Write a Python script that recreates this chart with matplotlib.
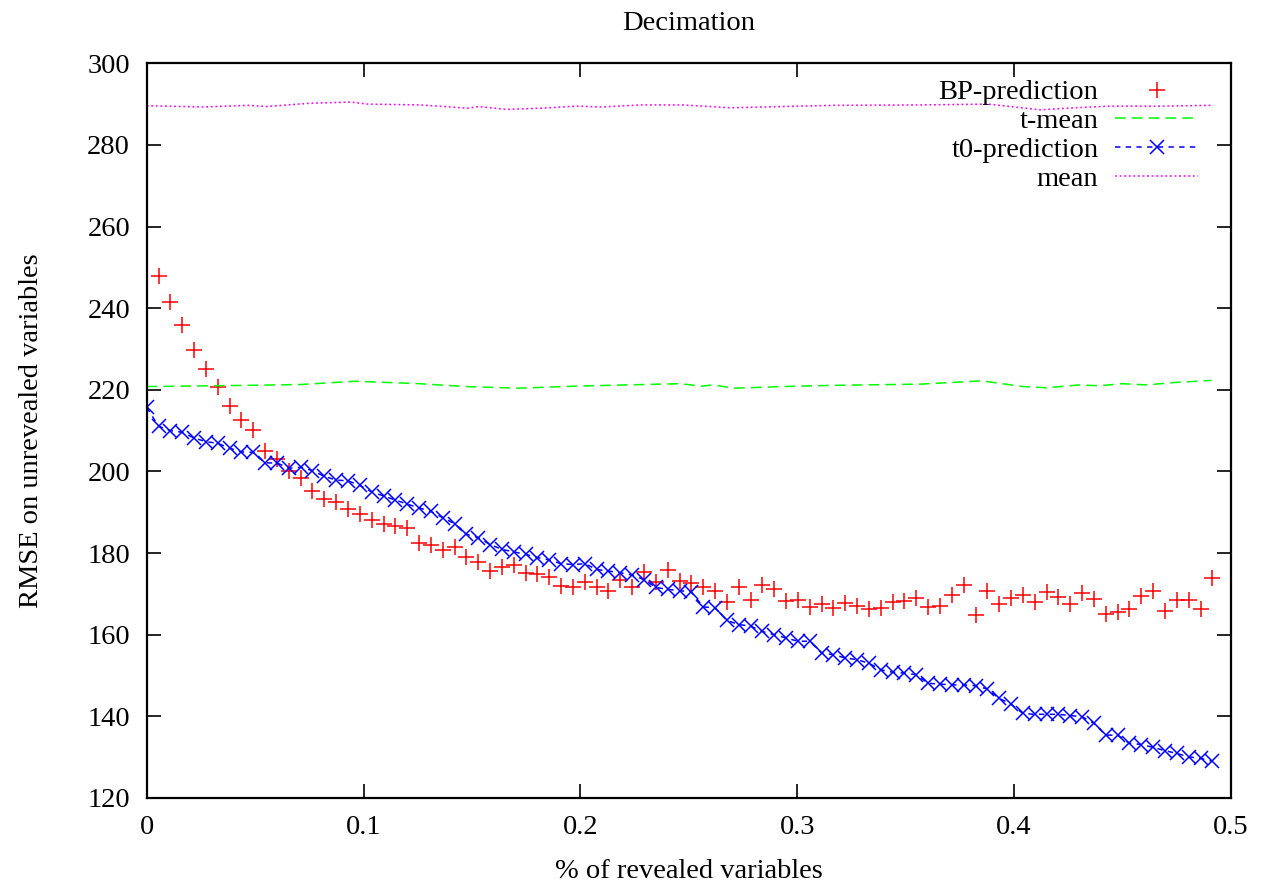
import numpy as np
import matplotlib
matplotlib.use('Agg')
import matplotlib.pyplot as plt

plt.rcParams['font.family'] = ['Liberation Serif', 'DejaVu Serif']

# step between decimation rounds (fraction of revealed variables)
step = 0.00546

bp_pred = [247.9, 241.4, 235.9, 229.7, 225.2, 220.7, 216.0, 212.5, 210.2, 205.1,
           203.0, 200.2, 198.3, 195.2, 193.3, 192.6, 190.9, 189.5, 188.0, 187.2,
           186.6, 186.2, 182.5, 181.9, 180.7, 181.5, 179.1, 177.8, 175.6, 176.6,
           177.0, 175.2, 174.8, 174.1, 171.9, 171.6, 172.9, 171.6, 170.7, 173.3,
           171.6, 175.4, 172.9, 175.8, 173.1, 172.7, 171.6, 170.8, 168.0, 171.6,
           168.4, 172.3, 171.1, 168.2, 168.6, 166.8, 167.5, 166.6, 167.8, 167.1,
           166.2, 166.6, 167.9, 168.2, 169.0, 166.8, 167.0, 169.8, 172.1, 164.8,
           170.6, 167.5, 168.9, 169.8, 167.9, 170.4, 169.3, 167.6, 170.1, 168.8,
           165.1, 165.6, 166.2, 169.6, 170.7, 165.9, 168.4, 168.4, 166.2, 173.8]

t0_pred = [215.7, 211.1, 210.0, 209.6, 208.2, 207.3, 206.9, 205.7, 204.8, 204.7,
           202.1, 202.1, 200.8, 201.0, 200.2, 198.8, 197.9, 197.7, 196.6, 195.0,
           194.0, 193.0, 192.0, 191.1, 190.2, 188.7, 187.2, 184.6, 183.8, 182.1,
           180.9, 180.3, 179.7, 178.9, 178.3, 177.4, 177.2, 177.4, 176.0, 175.6,
           175.2, 174.6, 173.5, 171.6, 171.1, 170.8, 170.5, 166.8, 166.6, 163.5,
           162.5, 162.1, 160.8, 160.0, 159.2, 158.4, 158.4, 155.5, 155.1, 154.3,
           153.9, 153.0, 151.4, 150.8, 150.6, 150.2, 148.1, 147.9, 147.7, 147.7,
           147.5, 146.7, 144.4, 143.0, 140.7, 140.5, 140.5, 140.5, 140.2, 139.9,
           138.3, 135.4, 135.4, 133.4, 133.1, 132.4, 131.6, 130.9, 130.1, 129.7,
           129.0]

tmean_x = [0.0, 0.047, 0.071, 0.096, 0.126, 0.147, 0.171, 0.198, 0.221, 0.246,
           0.256, 0.261, 0.271, 0.293, 0.317, 0.357, 0.385, 0.404, 0.415, 0.430,
           0.439, 0.450, 0.461, 0.474, 0.491]
tmean_y = [220.8, 221.1, 221.3, 222.1, 221.5, 220.8, 220.4, 220.9, 221.2, 221.5,
           220.9, 221.2, 220.4, 220.8, 221.1, 221.4, 222.2, 220.8, 220.5, 221.2,
           221.0, 221.5, 221.2, 221.8, 222.3]

mean_x = [0.0, 0.026, 0.047, 0.055, 0.075, 0.094, 0.102, 0.126, 0.148, 0.153,
          0.166, 0.182, 0.198, 0.210, 0.228, 0.247, 0.269, 0.293, 0.317, 0.357,
          0.388, 0.412, 0.428, 0.444, 0.468, 0.491]
mean_y = [289.6, 289.3, 289.7, 289.4, 290.2, 290.5, 290.0, 289.8, 289.0, 289.4,
          288.7, 289.0, 289.5, 289.3, 289.8, 289.8, 289.1, 289.4, 289.7, 289.8,
          290.0, 288.6, 289.1, 289.5, 289.5, 289.7]

bp_x = step * np.arange(1, len(bp_pred) + 1)
t0_x = step * np.arange(len(t0_pred))

fig = plt.figure(figsize=(12.7, 8.84), dpi=100)
ax = fig.add_axes([0.1155, 0.0973, 0.8538, 0.8311])

ax.plot(bp_x, bp_pred, linestyle='none', marker='+', color='#ff0000',
        ms=12, mew=1.1, label='BP-prediction')
ax.plot(tmean_x, tmean_y, color='#00ff00', lw=1.1, dashes=(7, 4), label='t-mean')
ax.plot(t0_x, t0_pred, color='#0000ff', lw=1.1, dashes=(3.5, 3.5),
        marker='x', ms=10, mew=1.1, label='t0-prediction')
ax.plot(mean_x, mean_y, color='#ff00ff', lw=1.1, dashes=(1.2, 1.8), label='mean')

ax.set_xlim(0, 0.5)
ax.set_ylim(120, 300)
ax.set_xticks([0, 0.1, 0.2, 0.3, 0.4, 0.5])
ax.set_xticklabels(['0', '0.1', '0.2', '0.3', '0.4', '0.5'])
ax.set_yticks(range(120, 301, 20))

for s in ax.spines.values():
    s.set_linewidth(1.6)
ax.tick_params(direction='in', length=10, width=1.2, top=True, right=True,
               labelsize=20.5, pad=12)

ax.set_title('Decimation', fontsize=20.5, pad=24)
ax.set_xlabel('% of revealed variables', fontsize=20.5, labelpad=14)
ax.set_ylabel('RMSE on unrevealed variables', fontsize=20.5, labelpad=31)

leg = ax.legend(loc='upper right', bbox_to_anchor=(0.988, 1.005), frameon=False,
                markerfirst=False, fontsize=20.5, handlelength=2.9,
                handletextpad=0.6, labelspacing=0.1, borderaxespad=0.3)

fig.savefig('out.png', dpi=100)
